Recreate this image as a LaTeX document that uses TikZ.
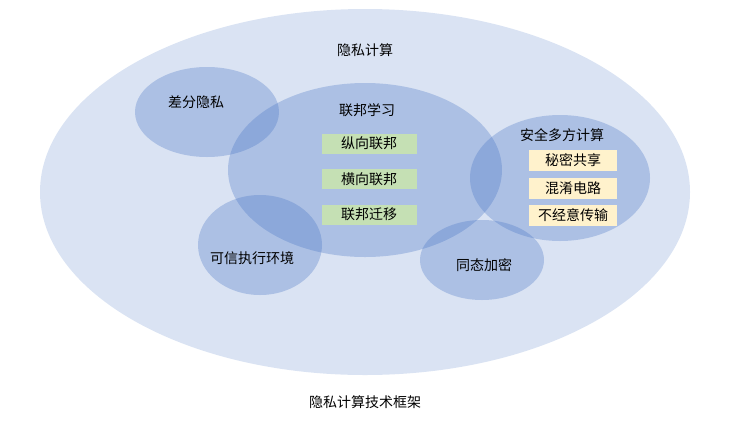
\documentclass[tikz,border=0pt]{standalone}
\usepackage{fontspec}
\setmainfont{Noto Sans CJK SC}
\usetikzlibrary{shapes.geometric}
\definecolor{outerblue}{RGB}{218,227,243}
\definecolor{midblue}{RGB}{68,114,196}
\definecolor{greenbox}{RGB}{197,224,180}
\definecolor{yellowbox}{RGB}{255,242,204}

\begin{document}
\begin{tikzpicture}[x=1pt,y=-1pt,
    area/.style={ellipse, fill=midblue, fill opacity=0.3, inner sep=0pt},
    lbl/.style={font=\fontsize{14}{16}\selectfont},
    fedbox/.style={fill=greenbox, minimum width=95pt, minimum height=20pt, inner sep=0pt, font=\fontsize{14}{16}\selectfont},
    mpcbox/.style={fill=yellowbox, minimum width=88pt, minimum height=21pt, inner sep=0pt, font=\fontsize{14}{16}\selectfont}]
  \useasboundingbox (0,0) rectangle (730,421);
  % outer framework
  \node[ellipse, fill=outerblue, minimum width=650pt, minimum height=366pt] (outer) at (365,192) {};
  \node[lbl] (outerlbl) at (365,50) {隐私计算};
  \node[lbl] (caption) at (365,402) {隐私计算技术框架};
  % technique areas
  \node[area, minimum width=144pt, minimum height=90pt] (dp) at (207,112) {};
  \node[area, minimum width=274pt, minimum height=174pt] (fl) at (365,170) {};
  \node[area, minimum width=180pt, minimum height=126pt] (mpc) at (560,178) {};
  \node[area, minimum width=124pt, minimum height=100pt] (tee) at (260,245) {};
  \node[area, minimum width=124pt, minimum height=80pt] (he) at (482,260) {};
  % area labels
  \node[lbl] (dplbl) at (196,102) {差分隐私};
  \node[lbl] (fllbl) at (367,110) {联邦学习};
  \node[lbl] (mpclbl) at (562,135) {安全多方计算};
  \node[lbl] (teelbl) at (252,258) {可信执行环境};
  \node[lbl] (helbl) at (484,265) {同态加密};
  % federated learning kinds
  \foreach \t [count=\i] in {纵向联邦,横向联邦,联邦迁移} {
    \node[fedbox] (fed\i) at (369,108+35.5*\i) {\t};
  }
  % multi-party computation kinds
  \foreach \t [count=\i] in {秘密共享,混淆电路,不经意传输} {
    \node[mpcbox] (mpc\i) at (573,133+27.5*\i) {\t};
  }
\end{tikzpicture}
\end{document}
